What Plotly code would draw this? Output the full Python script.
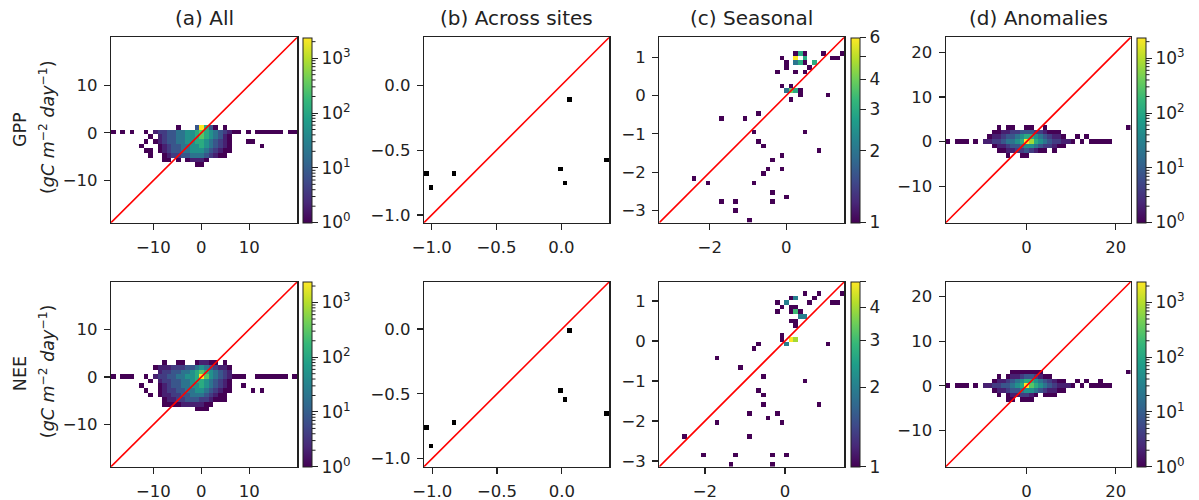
import numpy as np
import plotly.graph_objects as go

FONT = "DejaVu Sans"
INK = "#222222"
W, H = 1199, 500
N_BINS = 40

ROW_LABELS = ["GPP", "NEE"]
UNIT_LABEL = "(<i>gC m</i><sup>−2</sup> <i>day</i><sup>−1</sup>)"
TITLES = ["(a) All", "(b) Across sites", "(c) Seasonal", "(d) Anomalies"]

# counts represented by each grid symbol ('.' = empty bin)
LEVEL_COUNTS = {"0": 1, "1": 2, "2": 4, "3": 8, "4": 20, "5": 50,
                "6": 120, "7": 300, "8": 800, "9": 2400}

# histogram extents (same for x and y in every panel)
A1_RANGE = [-18.85, 20.04]
A2_RANGE = [-18.85, 20.04]
B1_RANGE = [-1.06, 0.37]
B2_RANGE = [-1.064, 0.366]
C1_RANGE = [-3.32, 1.52]
C2_RANGE = [-3.14, 1.48]
D1_RANGE = [-18.15, 23.35]
D2_RANGE = [-18.15, 23.35]

# (a) All: 40x40 bin counts, rows keyed by bin row counted from the top
A1_ROWS = {
    19: "..............0...39630.0...............",
    20: "0.0.0..0.1223344556765432100.0.000000.00",
    21: "........0.1233445567654310..............",
    22: ".......0.01233445566543210...00.........",
    23: "......0...0123344556543210......0.......",
    24: ".......00.0123344555432100..............",
    25: "........0..01223344432100...............",
    26: "...........00.0.01110...................",
    27: "..................00....................",
}
A2_ROWS = {
    17: "...........0..00..01100.0...............",
    18: ".........01112223345432110..............",
    19: "..........1223344567654321..............",
    20: "0.000..0.12233445569754321000..0000000.0",
    21: "........0.1223344566543210..............",
    22: "......0...0123344556543210..0...........",
    23: ".......0..0122334455432100....0.0.......",
    24: "........0.011223344432100...............",
    25: "...........01122333221000...............",
    26: "...........00001111100..................",
    27: "..................000...................",
}

# (d) Anomalies
D1_ROWS = {
    19: "...........0.00..00..0.................0",
    20: "..........001122333221000...............",
    21: ".........01123345665432110..0.0.........",
    22: "0.000.0.11223445698654322110.0.00000....",
    23: "..........0112334554322100..............",
    24: "...........00112232100.0................",
    25: ".............0..00......................",
}
D2_ROWS = {
    19: "..............0000000..................0",
    20: "...........0.0112332100.................",
    21: "..........0112345665432100..0.0..0......",
    22: "0.000.0.11223345697654321110.0.00000....",
    23: "..........0112334554321100..............",
    24: "...........0.0112210.000................",
    25: ".............00.000.....................",
}

# (b) Across sites: one value per site
B1_X = [-1.04, -1.005, -0.83, -0.013, 0.028, 0.064, 0.344]
B1_Y = [-0.683, -0.79, -0.683, -0.65, -0.75, -0.108, -0.575]
B2_X = [-1.04, -1.005, -0.83, -0.01, 0.028, 0.064, 0.344]
B2_Y = [-0.753, -0.90, -0.72, -0.47, -0.54, 0.0, -0.647]

# (c) Seasonal: occupied bins (x, y, count)
C1_X = [-0.11, 0.0, 0.0, 0.23, 0.35, 0.47, 0.23, 0.47, 0.23, 0.35, 0.47, 0.59, 0.72,
        0.95, 1.18, 1.29, 1.42, -0.24, 0.23, 0.47, -0.11, 0.12, 0.0, 0.12, 0.23, 0.35,
        0.35, 0.12, 1.08, -1.67, -1.08, -0.71, -0.84, -0.71, -0.59, 0.47, 0.84, -0.11,
        -0.36, -0.48, -0.59, -0.11, -0.84, -2.40, -2.05, -1.67, -1.32, -1.32, -0.36,
        -0.36, 0.0, -0.95]
C1_Y = [0.99, 0.87, 0.76, 1.11, 1.11, 1.11, 0.99, 0.99, 0.87, 0.87, 0.87, 0.76, 0.87,
        1.11, 0.99, 0.99, 1.11, 0.63, 0.63, 0.63, 0.26, 0.26, 0.15, 0.15, 0.15, 0.15,
        0.02, -0.10, 0.02, -0.59, -0.59, -0.46, -0.94, -1.19, -1.32, -0.94, -1.44, -1.55,
        -1.69, -1.93, -2.05, -1.93, -2.27, -2.16, -2.27, -2.77, -2.77, -3.01, -2.54,
        -2.77, -2.64, -3.25]
C1_N = [1, 1, 1, 1, 3, 1, 6, 3, 2, 3, 1, 1, 3,
        1, 1, 1, 1, 1, 1, 1, 1, 1, 2, 4, 3, 1,
        1, 1, 1, 1, 1, 1, 1, 1, 1, 1, 1, 1,
        1, 1, 1, 1, 1, 1, 1, 1, 1, 1, 1,
        1, 1, 1]

C2_X = [-2.49, -2.03, -1.68, -1.68, -1.22, -1.34, -1.11, -0.75, -0.64, -0.52, -0.64,
        -0.52, -0.52, -0.87, -0.87, -0.41, -0.18, -0.05, -0.30, -0.30, 0.05, 0.51, 0.86,
        1.10, -0.05, -0.05, 0.05, 0.17, 0.28, -0.18, -0.18, -0.05, 0.05, 0.17, 0.28,
        0.17, 0.17, 0.28, 0.28, 0.40, 0.40, 0.51, 0.17, 0.28, 0.28, 0.51, 0.63, 0.75,
        0.86, 1.20, 1.30, 1.43]
C2_Y = [-2.38, -2.84, -2.04, -0.42, -2.84, -3.08, -0.65, -0.19, -0.07, -0.88, -1.22,
        -1.34, -1.58, -1.82, -2.38, -1.93, -1.82, -2.04, -2.84, -3.08, -2.84, -1.00, -1.58,
        -0.07, 0.17, 0.06, -0.07, 0.06, 0.06, 0.98, 0.75, 0.85, 0.98, 1.10, 1.10,
        0.85, 0.75, 0.85, 0.75, 0.75, 0.63, 0.63, 0.52, 0.52, 0.40, 1.21, 0.98, 1.10,
        1.21, 0.98, 0.98, 1.21]
C2_N = [1, 1, 1, 1, 1, 1, 1, 1, 1, 1, 1,
        1, 1, 1, 1, 1, 1, 1, 1, 1, 1, 1, 1,
        1, 1, 1, 2, 5, 4, 1, 1, 1, 2, 1, 2,
        1, 1, 1, 3, 1, 2, 2, 1, 1, 1, 1, 1, 1,
        1, 1, 1, 1]

# tick values per panel column
A_TICKS = [-10, 0, 10]
B_TICKS = [-1.0, -0.5, 0.0]
C_XTICKS = [-2, 0]
C_YTICKS = [-3, -2, -1, 0, 1]
D_XTICKS = [0, 20]
D_YTICKS = [-10, 0, 10, 20]


def fmt(v, dec=0):
    s = f"{abs(v):.{dec}f}"
    return ("−" + s) if v < 0 else s


def grid_counts(rows):
    z = np.zeros((N_BINS, N_BINS))
    for j, s in rows.items():
        s = s.ljust(N_BINS, ".")[:N_BINS]
        for i, ch in enumerate(s):
            if ch != ".":
                z[N_BINS - 1 - j, i] = LEVEL_COUNTS[ch]
    return z


def hist_counts(xs, ys, ns, rng):
    z = np.zeros((N_BINS, N_BINS))
    w = (rng[1] - rng[0]) / N_BINS
    for x, y, n in zip(xs, ys, ns):
        i = int(np.clip(np.floor((x - rng[0]) / w), 0, N_BINS - 1))
        j = int(np.clip(np.floor((y - rng[0]) / w), 0, N_BINS - 1))
        z[j, i] += n
    return z


def centers(rng):
    w = (rng[1] - rng[0]) / N_BINS
    return [rng[0] + (k + 0.5) * w for k in range(N_BINS)]


def to_log(z):
    out = []
    for row in z:
        out.append([float(np.log10(v)) if v > 0 else None for v in row])
    return out


# layout geometry (pixels)
COL_X = [(111, 297.3), (424, 609.3), (659.3, 844.3), (945.7, 1130.7)]
ROW_Y = [(37.3, 222.7), (281.7, 466.7)]
CB_LEFT = {0: 303, 2: 851, 3: 1137}
CB_THICK = 9

panels = []
for r, (arows, brng, bx, by, crng, cx, cy, cn, drows, arng, drng) in enumerate([
    (A1_ROWS, B1_RANGE, B1_X, B1_Y, C1_RANGE, C1_X, C1_Y, C1_N, D1_ROWS, A1_RANGE, D1_RANGE),
    (A2_ROWS, B2_RANGE, B2_X, B2_Y, C2_RANGE, C2_X, C2_Y, C2_N, D2_ROWS, A2_RANGE, D2_RANGE),
]):
    panels.append(dict(r=r, c=0, z=grid_counts(arows), rng=arng,
                       xt=A_TICKS, yt=A_TICKS, dec=0, kind="log"))
    panels.append(dict(r=r, c=1, z=hist_counts(bx, by, [1] * len(bx), brng), rng=brng,
                       xt=B_TICKS, yt=B_TICKS, dec=1, kind="black"))
    panels.append(dict(r=r, c=2, z=hist_counts(cx, cy, cn, crng), rng=crng,
                       xt=C_XTICKS, yt=C_YTICKS, dec=0, kind="small"))
    panels.append(dict(r=r, c=3, z=grid_counts(drows), rng=drng,
                       xt=D_XTICKS, yt=D_YTICKS, dec=0, kind="log"))

fig = go.Figure()
shapes = []
annotations = []

for p in panels:
    r, c = p["r"], p["c"]
    n = r * 4 + c + 1
    xa = "x" if n == 1 else f"x{n}"
    ya = "y" if n == 1 else f"y{n}"
    x0, x1 = COL_X[c]
    top, bot = ROW_Y[r]
    cen = centers(p["rng"])
    zmax_count = float(p["z"].max())
    zl = to_log(p["z"])

    hm = dict(x=cen, y=cen, z=zl, xaxis=xa, yaxis=ya, hoverinfo="skip",
              zmin=0, zmax=np.log10(zmax_count) if zmax_count > 1 else 1)
    if p["kind"] == "black":
        hm.update(colorscale=[[0, "black"], [1, "black"]], showscale=False)
    else:
        if p["kind"] == "log":
            dmax = int(np.floor(np.log10(zmax_count)))
            tv = list(range(0, dmax + 1))
            tt = [f"10<sup>{k}</sup>" for k in tv]
        else:
            vals = [v for v in [1, 2, 3, 4, 5, 6] if v <= zmax_count]
            tv = [float(np.log10(v)) for v in vals]
            tt = [" " if v == 5 else str(v) for v in vals]
        hm.update(
            colorscale="Viridis", showscale=True,
            colorbar=dict(
                x=CB_LEFT[c] / W, xanchor="left", xpad=0, ypad=0,
                y=1 - (top + bot) / 2 / H, yanchor="middle",
                len=(bot - top) / H, lenmode="fraction",
                thickness=CB_THICK, thicknessmode="pixels",
                outlinewidth=1, outlinecolor=INK,
                tickmode="array", tickvals=tv, ticktext=tt,
                ticks="outside", ticklen=6, tickwidth=1, tickcolor=INK,
                tickfont=dict(family=FONT, size=17, color=INK),
            ))
        if p["kind"] == "log":
            zmx = np.log10(zmax_count)
            cbr = CB_LEFT[c] + CB_THICK
            for d in range(0, 4):
                for m in range(2, 10):
                    v = d + np.log10(m)
                    if v < zmx:
                        ypx = bot - v / zmx * (bot - top)
                        shapes.append(dict(type="line", xref="paper", yref="paper",
                                           x0=cbr / W, x1=(cbr + 3.5) / W,
                                           y0=1 - ypx / H, y1=1 - ypx / H,
                                           line=dict(color=INK, width=1)))
    fig.add_trace(go.Heatmap(**hm))

    fig.add_trace(go.Scatter(x=p["rng"], y=p["rng"], mode="lines", xaxis=xa, yaxis=ya,
                             line=dict(color="red", width=1.6), hoverinfo="skip",
                             showlegend=False))

    common = dict(showline=True, mirror=True, linecolor=INK, linewidth=1.2,
                  ticks="outside", ticklen=6, tickwidth=1.2, tickcolor=INK,
                  showgrid=False, zeroline=False, fixedrange=True, automargin=False,
                  tickfont=dict(family=FONT, size=16.5, color=INK),
                  ticklabelstandoff=3)
    xkey = "xaxis" if n == 1 else f"xaxis{n}"
    ykey = "yaxis" if n == 1 else f"yaxis{n}"
    fig.layout[xkey] = dict(common, domain=[x0 / W, x1 / W], range=p["rng"], anchor=ya,
                            tickmode="array", tickvals=p["xt"],
                            ticktext=[fmt(v, p["dec"]) for v in p["xt"]])
    fig.layout[ykey] = dict(common, domain=[1 - bot / H, 1 - top / H], range=p["rng"],
                            anchor=xa, tickmode="array", tickvals=p["yt"],
                            ticktext=[fmt(v, p["dec"]) for v in p["yt"]])

# column titles
for c, t in enumerate(TITLES):
    x0, x1 = COL_X[c]
    annotations.append(dict(text=t, xref="paper", yref="paper", x=(x0 + x1) / 2 / W,
                            y=1 - 18 / H, xanchor="center", yanchor="middle",
                            showarrow=False, font=dict(family=FONT, size=20, color=INK)))

# row labels
for r, lab in enumerate(ROW_LABELS):
    top, bot = ROW_Y[r]
    yc = 1 - (top + bot) / 2 / H
    annotations.append(dict(text=lab, xref="paper", yref="paper", x=20 / W, y=yc,
                            xanchor="center", yanchor="middle", textangle=-90,
                            showarrow=False, font=dict(family=FONT, size=17.5, color=INK)))
    annotations.append(dict(text=UNIT_LABEL, xref="paper", yref="paper", x=47 / W,
                            y=yc + 3 / H, xanchor="center", yanchor="middle", textangle=-90,
                            showarrow=False, font=dict(family=FONT, size=17.5, color=INK)))

fig.update_layout(template="none", width=W, height=H,
                  margin=dict(l=0, r=0, t=0, b=0, autoexpand=False),
                  paper_bgcolor="white", plot_bgcolor="white",
                  showlegend=False, shapes=shapes, annotations=annotations)

fig.write_html("out.html", config={"displayModeBar": False, "staticPlot": True},
               post_script="document.body.style.margin='0';document.body.style.padding='0';")
